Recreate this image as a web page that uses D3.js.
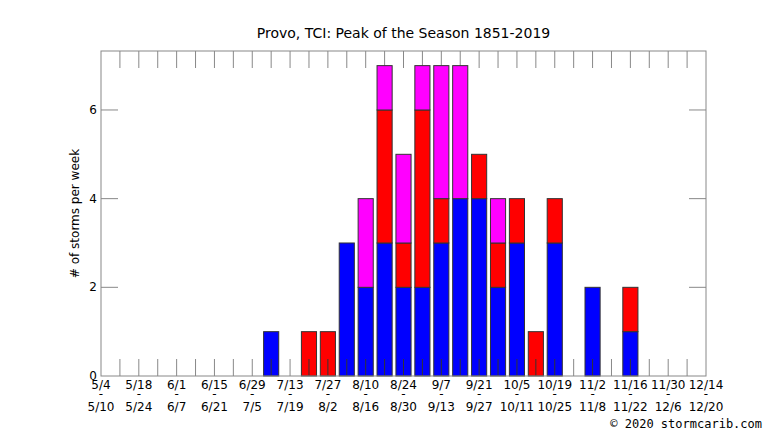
<!DOCTYPE html>
<html>
<head>
<meta charset="UTF-8">
<script src="https://d3js.org/d3.v7.min.js"></script>
<style>
  body { margin: 0; background: #fff; }
  text { font-family: "DejaVu Sans", sans-serif; font-size: 12px; fill: #000; }
</style>
</head>
<body>
<svg width="766" height="431"></svg>
<script>
// week index (0 = 5/4) of each bar, with counts by category
const weeks    = [9, 11, 12, 13, 14, 15, 16, 17, 18, 19, 20, 21, 22, 23, 24, 26, 28];
const blue     = [1, 0, 0, 3, 2, 3, 2, 2, 3, 4, 4, 2, 3, 0, 3, 2, 1];
const red      = [0, 1, 1, 0, 0, 3, 1, 4, 1, 0, 1, 1, 1, 1, 1, 0, 1];
const magenta  = [0, 0, 0, 0, 2, 1, 2, 1, 3, 3, 0, 1, 0, 0, 0, 0, 0];
const startLabels = ["5/4","5/18","6/1","6/15","6/29","7/13","7/27","8/10","8/24","9/7","9/21","10/5","10/19","11/2","11/16","11/30","12/14"];
const endLabels   = ["5/10","5/24","6/7","6/21","7/5","7/19","8/2","8/16","8/30","9/13","9/27","10/11","10/25","11/8","11/22","12/6","12/20"];
const yTicks = [0, 2, 4, 6];

const svg = d3.select("svg");
const pLeft = 101, pRight = 706, pTop = 51, pBottom = 376;
const x = d3.scaleLinear().domain([0, 32]).range([pLeft, pRight]);
const y = d3.scaleLinear().domain([0, 7.33]).range([pBottom, pTop]);
const bw = (x(1) - x(0)) * 0.8;
const tickLen = 17;

// week ticks, top and bottom
d3.range(1, 32).forEach(k => {
  svg.append("line").attr("x1", x(k)).attr("x2", x(k)).attr("y1", pBottom).attr("y2", pBottom - tickLen).attr("stroke", "#888");
  svg.append("line").attr("x1", x(k)).attr("x2", x(k)).attr("y1", pTop).attr("y2", pTop + tickLen).attr("stroke", "#888");
});

// stacked bars
const series = [
  { vals: blue, color: "#0000ff" },
  { vals: red, color: "#ff0000" },
  { vals: magenta, color: "#ff00ff" }
];
weeks.forEach((w, i) => {
  let base = 0;
  series.forEach(s => {
    const v = s.vals[i];
    if (v > 0) {
      svg.append("rect")
        .attr("x", x(w) - bw / 2).attr("width", bw)
        .attr("y", y(base + v)).attr("height", y(base) - y(base + v))
        .attr("fill", s.color).attr("stroke", "#333").attr("stroke-width", 1);
    }
    base += v;
  });
});

// ticks show through the bars
weeks.forEach(w => {
  svg.append("line").attr("x1", x(w)).attr("x2", x(w)).attr("y1", pBottom).attr("y2", pBottom - tickLen).attr("stroke", "#333");
});

// frame
svg.append("rect").attr("x", pLeft).attr("y", pTop).attr("width", pRight - pLeft).attr("height", pBottom - pTop)
  .attr("fill", "none").attr("stroke", "#888");

// y ticks
yTicks.forEach(t => {
  if (t > 0) {
    svg.append("line").attr("x1", pLeft).attr("x2", pLeft + tickLen).attr("y1", y(t)).attr("y2", y(t)).attr("stroke", "#888");
    svg.append("line").attr("x1", pRight).attr("x2", pRight - tickLen).attr("y1", y(t)).attr("y2", y(t)).attr("stroke", "#888");
  }
  svg.append("text").attr("x", pLeft - 4).attr("y", y(t) + 4).attr("text-anchor", "end").text(t);
});

// x labels
startLabels.forEach((s, i) => {
  const xx = x(i * 2);
  svg.append("text").attr("x", xx).attr("y", pBottom + 13).attr("text-anchor", "middle").text(s);
  svg.append("text").attr("x", xx).attr("y", pBottom + 22).attr("text-anchor", "middle").text("-");
  svg.append("text").attr("x", xx).attr("y", pBottom + 35).attr("text-anchor", "middle").text(endLabels[i]);
});

svg.append("text").attr("x", (pLeft + pRight) / 2).attr("y", 38).attr("text-anchor", "middle")
  .style("font-size", "14px").text("Provo, TCI: Peak of the Season 1851-2019");
svg.append("text").attr("transform", `translate(79,${(pTop + pBottom) / 2}) rotate(-90)`)
  .attr("text-anchor", "middle").text("# of storms per week");
svg.append("text").attr("x", 762).attr("y", 428).attr("text-anchor", "end")
  .style("font-family", "DejaVu Sans Mono, monospace").text("© 2020 stormcarib.com");
</script>
</body>
</html>
